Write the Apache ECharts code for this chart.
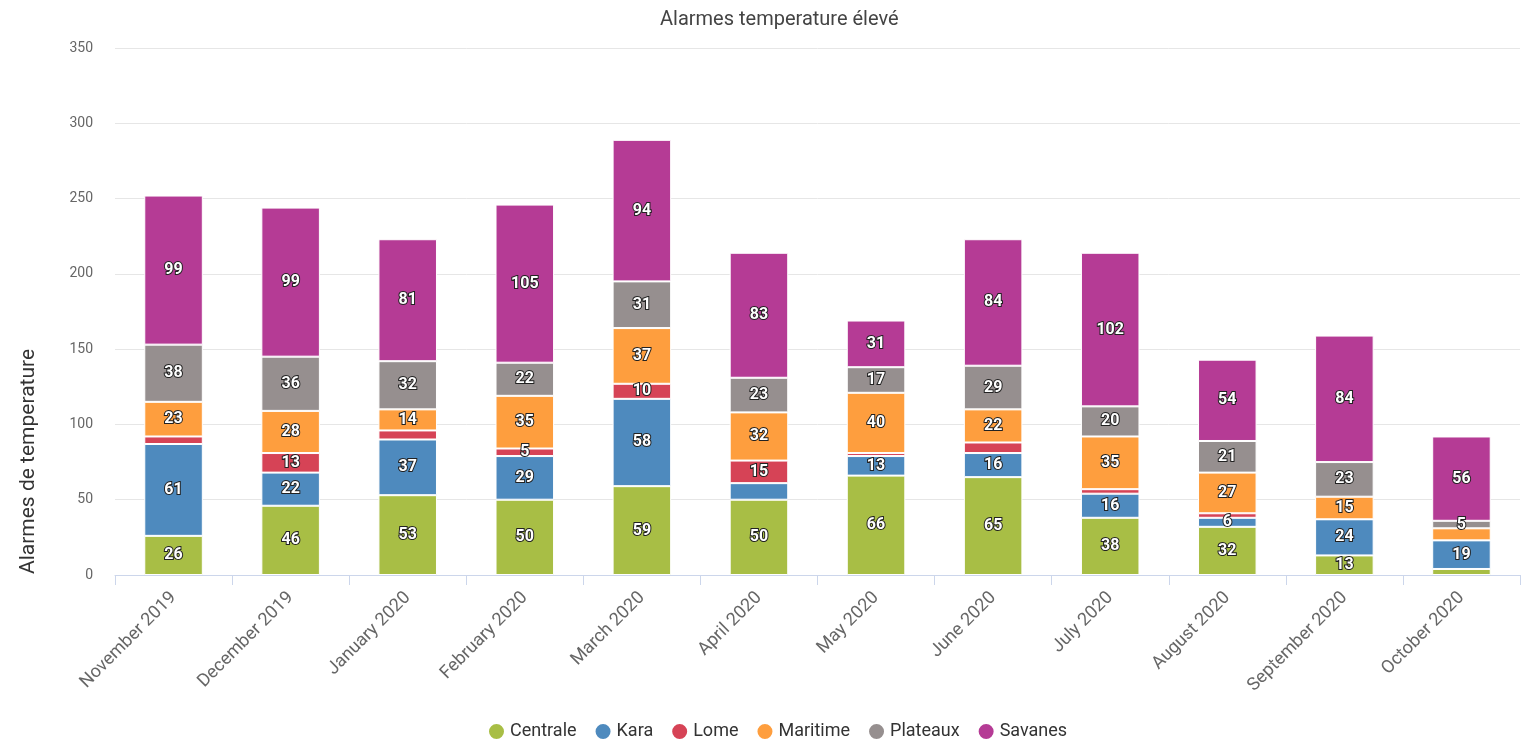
<!DOCTYPE html>
<html>
<head>
<meta charset="utf-8">
<title>Alarmes temperature élevé</title>
<script src="https://cdn.jsdelivr.net/npm/echarts@6/dist/echarts.min.js"></script>
<style>
  html, body { margin: 0; padding: 0; background: #fff; }
  #chart { width: 1524px; height: 747px; }
</style>
</head>
<body>
<div id="chart"></div>
<script>
// mois (axe x)
const months = ["November 2019", "December 2019", "January 2020", "February 2020", "March 2020", "April 2020",
  "May 2020", "June 2020", "July 2020", "August 2020", "September 2020", "October 2020"];

// valeurs par région
const centrale = [26, 46, 53, 50, 59, 50, 66, 65, 38, 32, 13, 4];
const kara     = [61, 22, 37, 29, 58, 11, 13, 16, 16, 6, 24, 19];
const lome     = [5, 13, 6, 5, 10, 15, 2, 7, 3, 3, 0, 0];
const maritime = [23, 28, 14, 35, 37, 32, 40, 22, 35, 27, 15, 8];
const plateaux = [38, 36, 32, 22, 31, 23, 17, 29, 20, 21, 23, 5];
const savanes  = [99, 99, 81, 105, 94, 83, 31, 84, 102, 54, 84, 56];

const yTicks = { min: 0, max: 350, interval: 50 };

const regions = [
  { name: "Centrale", data: centrale, color: "#a8be45" },
  { name: "Kara", data: kara, color: "#4e8abe" },
  { name: "Lome", data: lome, color: "#d64356" },
  { name: "Maritime", data: maritime, color: "#fe9e3e" },
  { name: "Plateaux", data: plateaux, color: "#968f8f" },
  { name: "Savanes", data: savanes, color: "#b53b95" },
];

// masquer les étiquettes qui se chevauchent (la plus petite valeur cède sa place)
const plotHeight = 747 - 48 - 172;
const labelGap = 23 / (plotHeight / yTicks.max); // hauteur d'étiquette en unités
const hidden = new Set();
months.forEach((_, i) => {
  let base = 0;
  const items = regions.map((r, s) => {
    const v = r.data[i];
    const it = { s, v, mid: base + v / 2 };
    base += v;
    return it;
  }).filter((it) => it.v > 0);
  items.sort((a, b) => b.v - a.v);
  const kept = [];
  items.forEach((it) => {
    if (kept.some((k) => Math.abs(k.mid - it.mid) < labelGap)) hidden.add(it.s + "-" + i);
    else kept.push(it);
  });
});

const myChart = echarts.init(document.getElementById("chart"));

const option = {
  textStyle: { fontFamily: "Roboto" },
  title: {
    text: "Alarmes temperature élevé",
    left: 655,
    top: 5,
    textStyle: { fontSize: 20, fontWeight: "normal", color: "#444" },
  },
  legend: {
    bottom: 1,
    left: 482,
    icon: "circle",
    itemWidth: 17,
    itemHeight: 17,
    itemGap: 17,
    textStyle: { fontSize: 18, color: "#333" },
  },
  grid: { left: 115, right: 4, top: 48, bottom: 172 },
  xAxis: {
    type: "category",
    data: months,
    axisLine: { lineStyle: { color: "#ccd6eb" } },
    axisTick: { show: true, length: 10, lineStyle: { color: "#ccd6eb" } },
    axisLabel: { rotate: 45, fontSize: 18, color: "#666", margin: 20, interval: 0 },
  },
  yAxis: {
    type: "value",
    min: yTicks.min,
    max: yTicks.max,
    interval: yTicks.interval,
    name: "Alarmes de temperature",
    nameLocation: "middle",
    nameGap: 76,
    nameTextStyle: { fontSize: 21, color: "#333", padding: [0, 300, 0, 0] },
    axisLine: { show: false },
    axisTick: { show: false },
    axisLabel: { fontSize: 14, color: "#666", margin: 22 },
    splitLine: { lineStyle: { color: "#e6e6e6" } },
  },
  series: regions.map((r, s) => ({
    name: r.name,
    type: "bar",
    stack: "total",
    barWidth: "50%",
    data: r.data,
    itemStyle: { color: r.color, borderColor: "#fff", borderWidth: 1 },
    label: {
      show: true,
      position: "inside",
      fontSize: 16,
      fontWeight: "bold",
      color: "#fff",
      textBorderColor: "#222",
      textBorderWidth: 2,
      formatter: (p) => (p.value > 0 && !hidden.has(s + "-" + p.dataIndex) ? p.value : ""),
    },
  })),
};

myChart.setOption(option);
window.addEventListener("resize", myChart.resize);
</script>
</body>
</html>
